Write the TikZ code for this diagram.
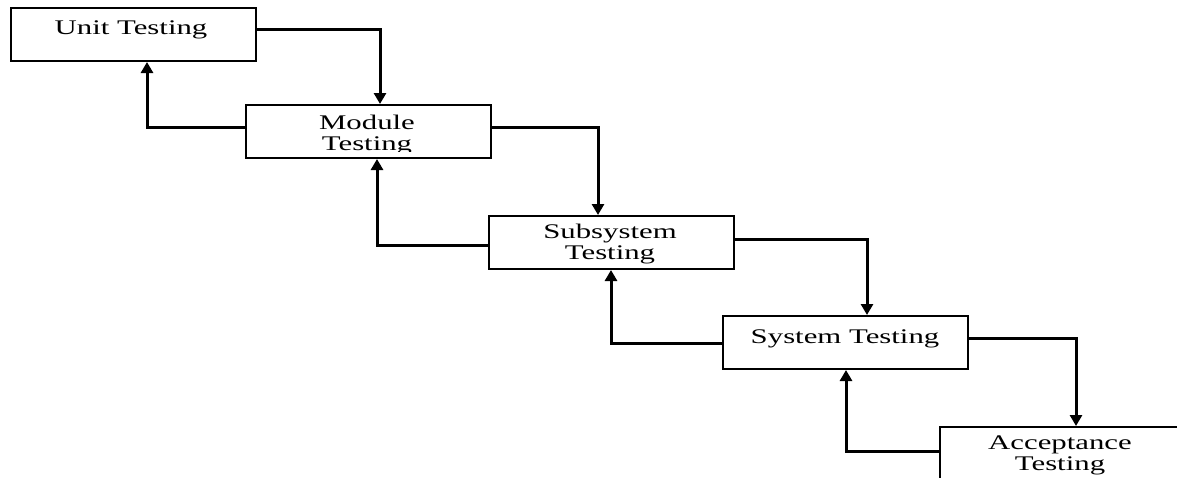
\documentclass[tikz,border=0pt]{standalone}
\usepackage{fontspec}
\setmainfont{Liberation Serif}[FakeStretch=1.48]
\usetikzlibrary{arrows.meta,calc}

\tikzset{
  stagebox/.style={draw, line width=1pt, minimum width=122.5pt, minimum height=26.5pt, inner sep=0pt},
  stagetext/.style={font=\fontsize{10.4pt}{10.5pt}\selectfont, align=center, inner sep=0pt, anchor=base},
  flow/.style={line width=1.5pt, -{Triangle[length=5.5pt,width=6pt]}},
}

\begin{document}
\begin{tikzpicture}[x=0.5pt, y=-0.5pt]
  \clip (0,0) rectangle (1177,477);
  \fill[white] (0,0) rectangle (1177,477);

  % stage boxes
  \node[stagebox] (unit)   at (133,34.5)    {};
  \node[stagebox] (module) at (368.5,131.5) {};
  \node[stagebox] (subsys) at (611.5,242.5) {};
  \node[stagebox] (system) at (845.5,342.5) {};
  \node[stagebox] (accept) at (1062.5,453.5) {};

  % stage names
  \node[stagetext] (unitlbl) at (131,34) {Unit Testing};
  \begin{scope}
    \clip (246,105) rectangle (491,151);
    \node[stagetext] (modulelbl) at (367,150) {Module\\Testing};
  \end{scope}
  \node[stagetext] (subsyslbl) at (610,259) {Subsystem\\Testing};
  \node[stagetext] (systemlbl) at (845,343) {System Testing};
  \node[stagetext] (acceptlbl) at (1060,470) {Acceptance\\Testing};

  % forward steps
  \draw[flow] ($(unit.east)+(0,-5.5)$)   -| ($(module.north)+(11.5,0)$);
  \draw[flow] ($(module.east)+(0,-4.5)$) -| ($(subsys.north)+(-13.5,0)$);
  \draw[flow] ($(subsys.east)+(0,-3.5)$) -| ($(system.north)+(21.5,0)$);
  \draw[flow] ($(system.east)+(0,-4.5)$) -| ($(accept.north)+(13.5,0)$);

  % feedback paths
  \draw[flow] ($(module.west)+(0,-4.5)$) -| ($(unit.south)+(14,0)$);
  \draw[flow] ($(subsys.west)+(0,2.5)$)  -| ($(module.south)+(8.5,0)$);
  \draw[flow] ($(system.west)+(0,0.5)$)  -| ($(subsys.south)+(-0.5,0)$);
  \draw[flow] ($(accept.west)+(0,-2.5)$) -| ($(system.south)+(0.5,0)$);
\end{tikzpicture}
\end{document}
